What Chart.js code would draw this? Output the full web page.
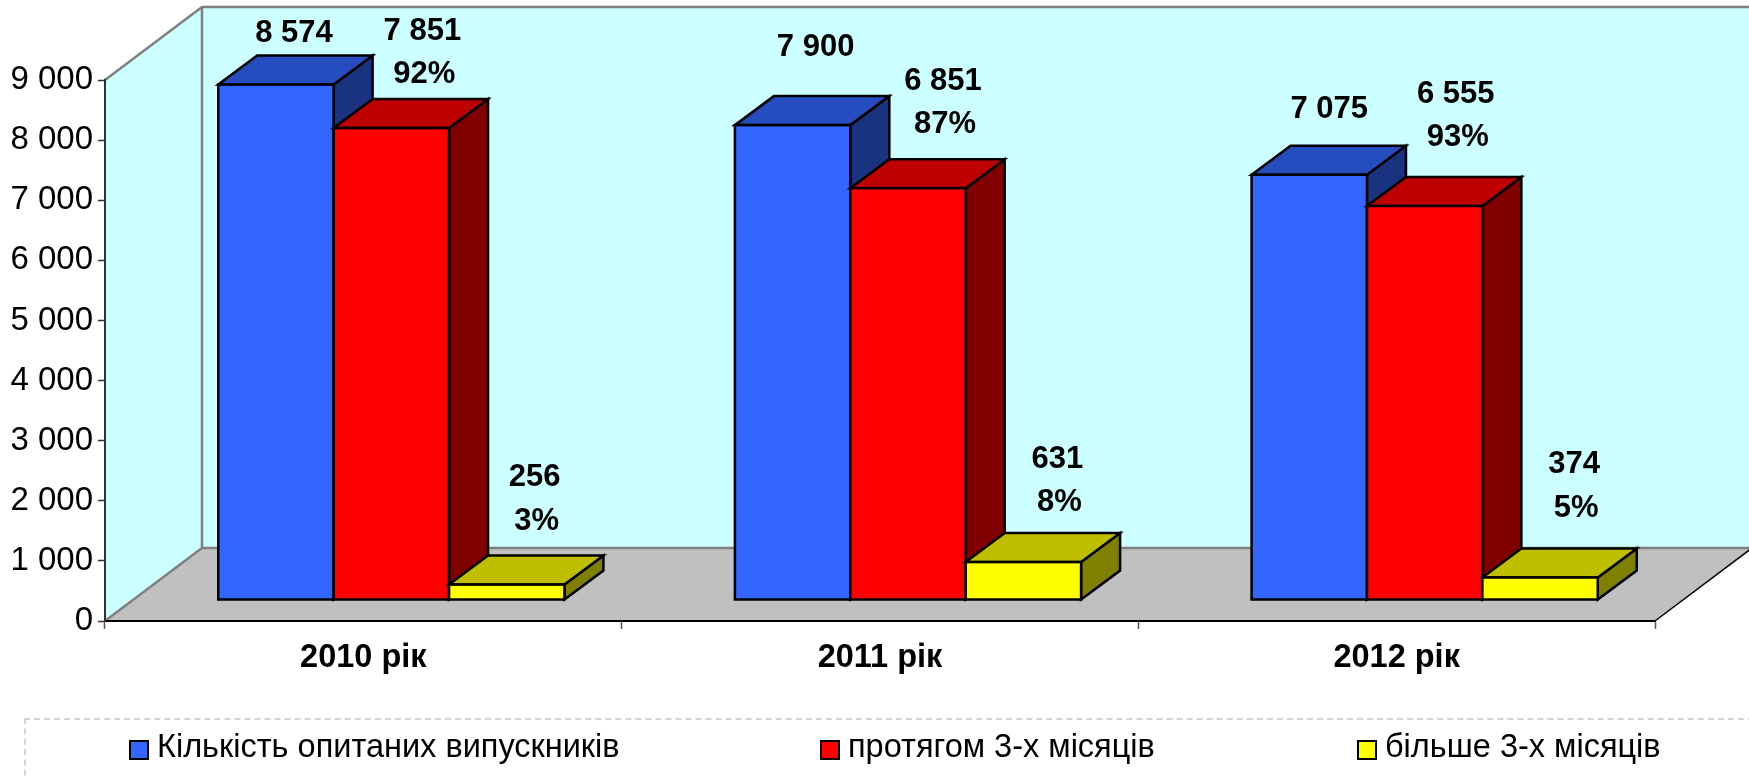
<!DOCTYPE html>
<html>
<head>
<meta charset="utf-8">
<style>
  html, body { margin: 0; padding: 0; background: #fff; overflow: hidden; }
  #wrap { position: relative; width: 1749px; height: 779px; overflow: hidden; }
  #legend {
    position: absolute; left: 24px; top: 718px; width: 1780px; height: 120px;
    box-sizing: border-box; border: 2px dashed #d4d4d4;
    font: 32.5px "Liberation Sans", sans-serif; color: #000;
  }
  #legend span { position: absolute; top: 8px; white-space: nowrap; }
  #legend i {
    position: absolute; top: 20px; width: 16px; height: 16px;
    border: 2px solid #000; display: block;
  }
</style>
</head>
<body>
<div id="wrap">
  <canvas id="chart" width="1749" height="779"></canvas>
  <div id="legend"></div>
</div>
<script src="https://cdn.jsdelivr.net/npm/chart.js@4"></script>
<script>
const years = ['2010 рік', '2011 рік', '2012 рік'];
const surveyed = [8574, 7900, 7075];
const within3 = [7851, 6851, 6555];
const over3 = [256, 631, 374];
const within3Pct = ['92%', '87%', '93%'];
const over3Pct = ['3%', '8%', '5%'];
const seriesNames = ['Кількість опитаних випускників', 'протягом 3-х місяців', 'більше 3-х місяців'];

// label offsets from the top middle of each bar, they were moved by hand in the original
const surveyedOffsets = [[18, -51], [23, -78], [20, -65]];
const within3Offsets = [[31, -97], [35, -107], [31, -112]];
const over3Offsets = [[28, -107], [34, -103], [34, -113]];

const fonts = 'Liberation Sans, sans-serif';
const wallDepth = [97, -73];
const barShift = [28, -21];
const barDepth = [39, -29];

function fmt(v) {
  return String(v).replace(/\B(?=(\d{3})+$)/g, ' ');
}

function poly(ctx, pts, fill, stroke, lw) {
  ctx.beginPath();
  pts.forEach((p, i) => i ? ctx.lineTo(p[0], p[1]) : ctx.moveTo(p[0], p[1]));
  ctx.closePath();
  ctx.fillStyle = fill;
  ctx.fill();
  if (stroke) {
    ctx.strokeStyle = stroke;
    ctx.lineWidth = lw;
    ctx.lineJoin = 'miter';
    ctx.stroke();
  }
}

// Walls and floor

const room = {
  id: 'room',
  beforeDraw(chart) {
    const { ctx, chartArea: a } = chart;
    const [dx, dy] = wallDepth;
    ctx.save();
    poly(ctx, [[a.left + dx, a.top + dy], [a.right + dx, a.top + dy], [a.right + dx, a.bottom + dy], [a.left + dx, a.bottom + dy]], '#ccffff');
    poly(ctx, [[a.left, a.top], [a.left + dx, a.top + dy], [a.left + dx, a.bottom + dy], [a.left, a.bottom]], '#ccffff');
    poly(ctx, [[a.left, a.bottom], [a.right, a.bottom], [a.right + dx, a.bottom + dy], [a.left + dx, a.bottom + dy]], '#c0c0c0');
    ctx.strokeStyle = '#808080';
    ctx.lineWidth = 2.5;
    ctx.beginPath();
    ctx.moveTo(a.left, a.top);
    ctx.lineTo(a.left + dx, a.top + dy);
    ctx.lineTo(a.right + dx, a.top + dy);
    ctx.moveTo(a.left + dx, a.top + dy);
    ctx.lineTo(a.left + dx, a.bottom + dy);
    ctx.lineTo(a.right + dx, a.bottom + dy);
    ctx.moveTo(a.left, a.bottom);
    ctx.lineTo(a.left + dx, a.bottom + dy);
    ctx.stroke();
    ctx.strokeStyle = '#000';
    ctx.lineWidth = 1.5;
    ctx.beginPath();
    ctx.moveTo(a.right, a.bottom);
    ctx.lineTo(a.right + dx, a.bottom + dy);
    ctx.stroke();
    ctx.restore();
  }
};

// Bars are painted left to right so the next bar covers the side of the one before.
// Top and side are added here, the front is the normal bar moved back into the room.

const bars3d = {
  id: 'bars3d',
  beforeDatasetsDraw(chart) {
    const { ctx } = chart;
    const [sx, sy] = barShift;
    const [dx, dy] = barDepth;
    chart.data.datasets.forEach((ds, i) => {
      const meta = chart.getDatasetMeta(i);
      ctx.save();
      meta.data.forEach((el) => {
        const p = el.getProps(['x', 'y', 'base', 'width'], true);
        const l = p.x - p.width / 2 + sx;
        const r = p.x + p.width / 2 + sx;
        const t = p.y + sy;
        const b = p.base + sy;
        poly(ctx, [[r, t], [r + dx, t + dy], [r + dx, b + dy], [r, b]], ds.sideColor, '#000', 2.5);
        poly(ctx, [[l, t], [l + dx, t + dy], [r + dx, t + dy], [r, t]], ds.topColor, '#000', 2.5);
      });
      ctx.save();
      ctx.translate(sx, sy);
      meta.controller.draw();
      ctx.restore();
      // outline sits on the edge so two neighbour bars share one line
      meta.data.forEach((el) => {
        const p = el.getProps(['x', 'y', 'base', 'width'], true);
        ctx.strokeStyle = '#000';
        ctx.lineWidth = 2.5;
        ctx.strokeRect(p.x - p.width / 2 + sx, p.y + sy, p.width, p.base - p.y);
      });
      ctx.restore();
    });
  },
  beforeDatasetDraw() {
    return false;
  },
  afterDatasetsDraw(chart) {
    const { ctx } = chart;
    ctx.save();
    ctx.font = 'bold 31px ' + fonts;
    ctx.fillStyle = '#000';
    ctx.textAlign = 'center';
    ctx.textBaseline = 'middle';
    chart.data.datasets.forEach((ds, i) => {
      chart.getDatasetMeta(i).data.forEach((el, j) => {
        const x = el.x + barShift[0] + ds.offsets[j][0];
        const y = el.y + barShift[1] + ds.offsets[j][1];
        ctx.fillText(fmt(ds.data[j]), x, y);
        if (ds.pct) ctx.fillText(ds.pct[j], x + 2, y + 43.5);
      });
    });
    ctx.restore();
  }
};

const chart = new Chart(document.getElementById('chart'), {
  type: 'bar',
  data: {
    labels: years,
    datasets: [
      { label: seriesNames[0], data: surveyed, backgroundColor: '#3366ff', topColor: '#264dbf', sideColor: '#1a3380', offsets: surveyedOffsets },
      { label: seriesNames[1], data: within3, backgroundColor: '#ff0000', topColor: '#bf0000', sideColor: '#800000', offsets: within3Offsets, pct: within3Pct },
      { label: seriesNames[2], data: over3, backgroundColor: '#ffff00', topColor: '#bfbf00', sideColor: '#808000', offsets: over3Offsets, pct: over3Pct }
    ]
  },
  options: {
    responsive: false,
    animation: false,
    layout: { padding: { top: 80, right: 94, left: 0, bottom: 98 } },
    datasets: {
      bar: {
        barPercentage: 1,
        categoryPercentage: 0.67,
        borderWidth: 0,
        clip: false
      }
    },
    plugins: {
      legend: { display: false },
      tooltip: { enabled: false }
    },
    scales: {
      x: {
        afterFit(scale) { scale.height = 60; },
        grid: { drawOnChartArea: false, tickLength: 8, tickColor: '#555', tickWidth: 1.5 },
        border: { color: '#000', width: 2 },
        ticks: { color: '#000', padding: 10, maxRotation: 0, font: { family: fonts, size: 32.5, weight: 'bold' } }
      },
      y: {
        min: 0,
        max: 9000,
        afterFit(scale) { scale.width = 105; },
        grid: { drawOnChartArea: false, tickLength: 7, tickColor: '#333', tickWidth: 1.5 },
        border: { color: '#333', width: 2 },
        ticks: {
          stepSize: 1000,
          color: '#000',
          padding: 5,
          font: { family: fonts, size: 33 },
          callback: (v) => fmt(v)
        }
      }
    }
  },
  plugins: [room, bars3d]
});

// Legend

const legendBox = document.getElementById('legend');
const legendX = [103, 794, 1331];
chart.data.datasets.forEach((ds, i) => {
  const swatch = document.createElement('i');
  swatch.style.left = legendX[i] + 'px';
  swatch.style.background = ds.backgroundColor;
  const text = document.createElement('span');
  text.style.left = legendX[i] + 28 + 'px';
  text.textContent = ds.label;
  legendBox.appendChild(swatch);
  legendBox.appendChild(text);
});
</script>
</body>
</html>
